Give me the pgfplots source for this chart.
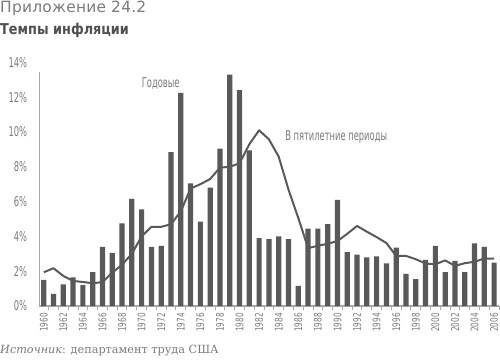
\documentclass[border=0pt]{standalone}
\usepackage{pgfplots}
\pgfplotsset{compat=1.18}
\usepackage{fontspec}
\setmainfont{DejaVu Sans}
\newfontfamily\titlefont{DejaVu Sans}[LetterSpace=1.5]
\newfontfamily\boldtitlefont{DejaVu Sans Bold}[FakeStretch=0.86]
\newfontfamily\condfont{DejaVu Sans}[FakeStretch=0.62]
\newfontfamily\xcondfont{DejaVu Sans}[FakeStretch=0.7]
\newfontfamily\seriffont{DejaVu Serif}
\definecolor{barc}{HTML}{595959}
\definecolor{txt}{HTML}{7A7A7A}
\definecolor{axc}{HTML}{A8A8A8}
\definecolor{ttl}{HTML}{505050}

\pgfplotstableread{
year val
1960 1.5
1961 0.7
1962 1.25
1963 1.65
1964 1.2
1965 1.95
1966 3.4
1967 3.05
1968 4.75
1969 6.15
1970 5.55
1971 3.4
1972 3.45
1973 8.85
1974 12.25
1975 7.05
1976 4.85
1977 6.8
1978 9.05
1979 13.3
1980 12.4
1981 8.95
1982 3.9
1983 3.85
1984 4.0
1985 3.85
1986 1.15
1987 4.45
1988 4.45
1989 4.7
1990 6.1
1991 3.1
1992 2.95
1993 2.8
1994 2.85
1995 2.45
1996 3.35
1997 1.85
1998 1.55
1999 2.65
2000 3.45
2001 1.95
2002 2.6
2003 1.95
2004 3.6
2005 3.4
2006 2.5
}\annual

\pgfplotstableread{
year val
1960 1.94
1961 2.17
1962 1.73
1963 1.44
1964 1.38
1965 1.31
1966 1.37
1967 1.92
1968 2.37
1969 3.0
1970 4.0
1971 4.55
1972 4.55
1973 4.7
1974 5.44
1975 6.75
1976 7.0
1977 7.3
1978 7.95
1979 8.0
1980 8.2
1981 9.3
1982 10.1
1983 9.58
1984 8.58
1985 6.69
1986 5.06
1987 3.33
1988 3.46
1989 3.58
1990 3.73
1991 4.15
1992 4.6
1993 4.27
1994 3.96
1995 3.62
1996 2.87
1997 2.88
1998 2.69
1999 2.44
2000 2.4
2001 2.62
2002 2.31
2003 2.46
2004 2.54
2005 2.73
2006 2.73
}\fiveyear

\begin{document}
\begin{tikzpicture}[x=1bp,y=1bp]
\useasboundingbox (0,0) rectangle (500,363);
\node[anchor=base west, inner sep=0, text=txt, font=\fontsize{15.5}{17}\selectfont\titlefont] at (0,350.3) {Приложение 24.2};
\node[anchor=base west, inner sep=0, text=ttl, font=\fontsize{15}{17}\selectfont\boldtitlefont] at (0,328.7) {Темпы инфляции};
\node[anchor=base west, inner sep=0, text=txt, font=\fontsize{11.3}{14}\selectfont\seriffont] at (0,9.7) {\textit{Источник}: департамент труда США};
\begin{axis}[
  at={(39.3bp,57bp)}, anchor=south west,
  scale only axis, width=459.7bp, height=243.6bp,
  xmin=1959.55, xmax=2006.5, ymin=0, ymax=14,
  axis x line=bottom, axis y line=left,
  x axis line style={-, draw=axc, line width=1.2bp},
  y axis line style={draw=none},
  xtick={1960,1962,...,2006},
  minor xtick={1959.5,1960.5,...,2006.5},
  major tick length=0pt, minor tick length=3.5bp,
  tick align=outside,
  minor tick style={draw=axc, line width=0.9bp},
  major tick style={draw=none},
  ytick={0,2,...,14},
  yticklabels={0\%,2\%,4\%,6\%,8\%,10\%,12\%,14\%},
  /pgf/number format/assume math mode=true,
  /pgf/number format/1000 sep={},
  xticklabel style={rotate=90, anchor=east, inner sep=0pt, text=txt, font=\fontsize{10.5}{12}\selectfont\xcondfont},
  yticklabel style={anchor=east, inner sep=0pt, text=txt, font=\fontsize{13.5}{15}\selectfont\condfont},
  xticklabel shift=7bp,
  yticklabel shift=12bp,
  clip=false,
]
\draw[axc, line width=1.2bp] (axis cs:1959.55,0) -- (axis cs:1959.55,13.47);
\addplot[ybar, bar width=5.2bp, fill=barc, draw=none] table[x=year, y=val] {\annual};
\addplot[sharp plot, barc, line width=2bp, line join=round, mark=none] table[x=year, y=val] {\fiveyear};
\node[anchor=base west, inner sep=0, text=txt, font=\fontsize{13.5}{15}\selectfont\condfont] at (axis cs:1970.0,12.53) {Годовые};
\node[anchor=base west, inner sep=0, text=txt, font=\fontsize{13.5}{15}\selectfont\condfont] at (axis cs:1984.65,9.54) {В пятилетние периоды};
\end{axis}
\end{tikzpicture}
\end{document}
